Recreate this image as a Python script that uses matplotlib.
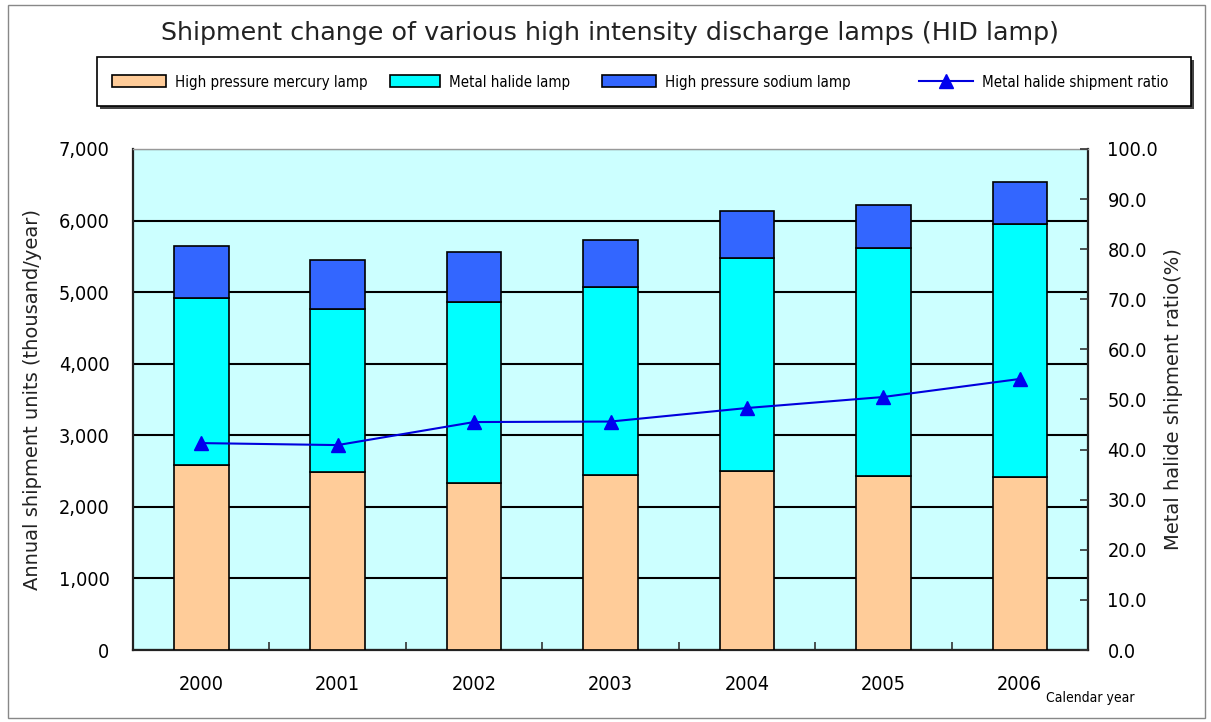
import matplotlib
matplotlib.use("Agg")
import matplotlib.pyplot as plt
from matplotlib.patches import Patch, Rectangle
from matplotlib.lines import Line2D
from matplotlib import font_manager
from matplotlib.font_manager import FontProperties

years = ["2000", "2001", "2002", "2003", "2004", "2005", "2006"]
mercury = [2580, 2490, 2330, 2440, 2500, 2430, 2420]
halide = [2340, 2270, 2530, 2630, 2975, 3185, 3530]
sodium = [720, 690, 700, 660, 655, 600, 590]
ratio = [41.3, 40.9, 45.5, 45.6, 48.3, 50.5, 54.1]

left_ticks = [0, 1000, 2000, 3000, 4000, 5000, 6000, 7000]
left_labels = ["0", "1,000", "2,000", "3,000", "4,000", "5,000", "6,000", "7,000"]
right_ticks = [0, 10, 20, 30, 40, 50, 60, 70, 80, 90, 100]

has_cond = any(f.name == "DejaVu Sans" and "Condensed" in f.fname for f in font_manager.fontManager.ttflist)
narrow = FontProperties(family="DejaVu Sans", stretch="condensed" if has_cond else "normal")

W, H = 1211, 722
fig = plt.figure(figsize=(W / 100, H / 100), dpi=100)
fig.patch.set_facecolor("white")
renderer = fig.canvas.get_renderer()


def fit_size(text, target_px, base=12.0):
    fp = narrow.copy()
    fp.set_size(base)
    t = fig.text(0, 0, text, fontproperties=fp)
    w = t.get_window_extent(renderer).width
    t.remove()
    return base * target_px / w


# outer border
fig.patches.append(Rectangle((8 / W, 4 / H), 1197 / W, 713 / H, transform=fig.transFigure,
                             fill=False, edgecolor="#888888", lw=1.0))

ax = fig.add_axes([133 / W, 1 - 650 / H, (1088 - 133) / W, (650 - 149) / H])
ax.set_facecolor("#CCFFFF")
x = list(range(len(years)))
bw = 0.4
ax.bar(x, mercury, bw, color="#FFCC99", edgecolor="black", lw=1.2, zorder=3)
bottom3 = [m + h for m, h in zip(mercury, halide)]
ax.bar(x, halide, bw, bottom=mercury, color="#00FFFF", edgecolor="black", lw=1.2, zorder=3)
ax.bar(x, sodium, bw, bottom=bottom3, color="#3366FF", edgecolor="black", lw=1.2, zorder=3)

tick_fp = narrow.copy()
tick_fp.set_size(fit_size("7,000", 51, 13))

ax.set_xlim(-0.5, len(years) - 0.5)
ax.set_ylim(0, 7000)
ax.set_yticks(left_ticks)
ax.set_yticklabels(left_labels, fontproperties=tick_fp)
ax.yaxis.grid(True, color="black", lw=1.5, zorder=1)
ax.set_axisbelow(True)
ax.tick_params(axis="y", length=0, pad=17)
ax.set_xticks(x)
ax.set_xticklabels(years, fontproperties=tick_fp)
ax.tick_params(axis="x", length=0, pad=18)
ax.set_xticks([i + 0.5 for i in x[:-1]], minor=True)
ax.tick_params(axis="x", which="minor", direction="in", length=6, width=1.2, color="#333333")
ax.set_ylabel("Annual shipment units (thousand/year)", fontsize=14, labelpad=12, color="#222222")
for s in ["left", "bottom"]:
    ax.spines[s].set_color("#222222")
    ax.spines[s].set_linewidth(1.6)
ax.spines["top"].set_color("#999999")
ax.spines["top"].set_linewidth(1.0)
ax.spines["right"].set_color("#222222")
ax.spines["right"].set_linewidth(1.6)

ax2 = ax.twinx()
ax2.plot(x, ratio, color="#0000DD", lw=1.5, marker="^", markersize=10,
         markerfacecolor="#0000EE", markeredgecolor="#0000EE", zorder=5)
ax2.set_ylim(0, 100)
ax2.set_yticks(right_ticks)
ax2.set_yticklabels([f"{v:.1f}" for v in right_ticks], fontproperties=tick_fp)
ax2.tick_params(axis="y", direction="in", length=6, width=1.2, pad=14, color="#333333")
ax2.set_ylabel("Metal halide shipment ratio(%)", fontsize=14, labelpad=4, color="#222222")
for s in ax2.spines.values():
    s.set_visible(False)

fig.text(610 / W, 1 - 33 / H, "Shipment change of various high intensity discharge lamps (HID lamp)",
         ha="center", va="center", fontsize=18.3, color="#222222")
cal_fp = narrow.copy()
cal_fp.set_size(fit_size("Calendar year", 88, 9))
fig.text(1090 / W, 1 - 698 / H, "Calendar year", ha="center", va="center", fontproperties=cal_fp)

# legend: frame with shadow, entries placed individually
leg_x0, leg_y0, leg_x1, leg_y1 = 97, 57, 1191, 106
fig.patches.append(Rectangle(((leg_x0 + 3) / W, 1 - (leg_y1 + 3) / H), (leg_x1 - leg_x0) / W,
                             (leg_y1 - leg_y0) / H, transform=fig.transFigure,
                             facecolor="#444444", edgecolor="none", zorder=1))
fig.patches.append(Rectangle((leg_x0 / W, 1 - leg_y1 / H), (leg_x1 - leg_x0) / W,
                             (leg_y1 - leg_y0) / H, transform=fig.transFigure,
                             facecolor="white", edgecolor="black", lw=1.2, zorder=2))

leg_fp = narrow.copy()
leg_size = fit_size("High pressure mercury lamp", 192, 11.5)
leg_fp.set_size(leg_size)
fs_px = leg_size * 100 / 72

handles = [Patch(facecolor="#FFCC99", edgecolor="black", lw=1.2),
           Patch(facecolor="#00FFFF", edgecolor="black", lw=1.2),
           Patch(facecolor="#3366FF", edgecolor="black", lw=1.2),
           Line2D([0], [0], color="#0000DD", lw=1.5, marker="^", markersize=10,
                  markerfacecolor="#0000EE", markeredgecolor="#0000EE")]
labels = ["High pressure mercury lamp", "Metal halide lamp", "High pressure sodium lamp",
          "Metal halide shipment ratio"]
starts = [112, 390, 602, 919]
hlens = [54, 50, 54, 54]
for h, lab, sx, hl in zip(handles, labels, starts, hlens):
    lg = fig.legend([h], [lab], loc="center left", bbox_to_anchor=(sx / W, 1 - 82 / H),
                    prop=leg_fp, frameon=False, borderpad=0, borderaxespad=0,
                    handlelength=hl / fs_px, handleheight=13 / fs_px, handletextpad=9 / fs_px)
    lg.set_zorder(3)

fig.savefig("out.png", dpi=100, facecolor="white")
